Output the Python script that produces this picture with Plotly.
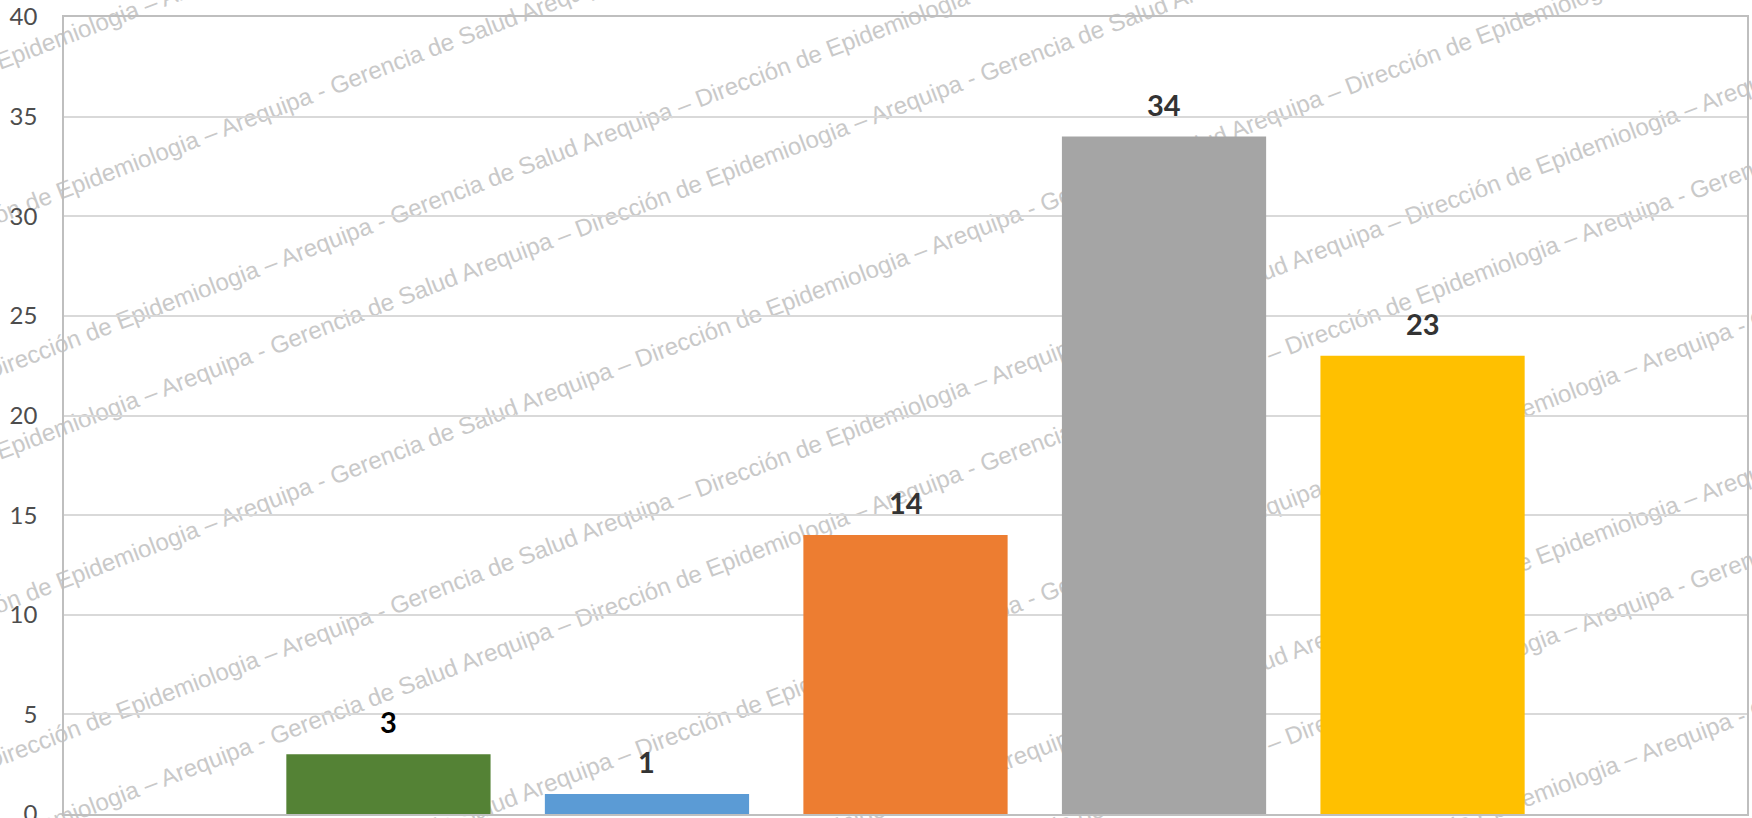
import plotly.graph_objects as go

# ---- data ----
categories = ["Cat 1", "Cat 2", "Cat 3", "Cat 4", "Cat 5"]
values = [3, 1, 14, 34, 23]
bar_colors = ["#548235", "#5B9BD5", "#ED7D31", "#A5A5A5", "#FFC000"]
label_colors = ["#000000", "#333333", "#333333", "#333333", "#333333"]
y_ticks = [0, 5, 10, 15, 20, 25, 30, 35, 40]
watermark_phrase = "Arequipa - Gerencia de Salud Arequipa \u2013 Direcci\u00f3n de Epidemiologia \u2013 "

W, H = 1752, 818
ML, MR, MT, MB = 64, 5, 17, 4
PW = W - ML - MR
PH = H - MT - MB

fig = go.Figure()
fig.add_trace(go.Bar(
    x=categories, y=values,
    marker=dict(color=bar_colors, line=dict(width=0)),
    width=0.79,
    hoverinfo="x+y",
    showlegend=False,
))

for c, v, lc in zip(categories, values, label_colors):
    fig.add_annotation(
        x=c, y=v, xref="x", yref="y",
        text=f"<b>{v}</b>", showarrow=False,
        yanchor="bottom", yshift=13,
        font=dict(family="Lato, Carlito, Calibri, sans-serif", size=29, color=lc),
    )

# ---- watermark (decorative, drawn beneath the bars) ----
shapes = []
wm_text = watermark_phrase * 4
for k in range(12):
    cy_px = -260 + 130 * k
    cx_px = 876 + (k % 3) * 60
    px0, py0 = cx_px - 5, cy_px + 1.9
    px1, py1 = cx_px + 5, cy_px - 1.9
    shapes.append(dict(
        type="line", xref="paper", yref="paper", layer="below",
        x0=(px0 - ML) / PW, y0=(H - MB - py0) / PH,
        x1=(px1 - ML) / PW, y1=(H - MB - py1) / PH,
        line=dict(width=0, color="rgba(0,0,0,0)"),
        label=dict(text=wm_text, textangle=-21, textposition="middle",
                   font=dict(family="Liberation Sans, Arial, sans-serif",
                             size=24, color="#c9c9c9")),
    ))

fig.update_layout(
    width=W, height=H,
    margin=dict(l=ML, r=MR, t=MT, b=MB, pad=0, autoexpand=False),
    paper_bgcolor="white",
    plot_bgcolor="rgba(0,0,0,0)",
    shapes=shapes,
    bargap=0.21,
    xaxis=dict(
        type="category",
        range=[-1.255, len(categories) - 1 + 1.255],
        showticklabels=False, ticks="", automargin=False,
        showgrid=False, zeroline=False,
        showline=True, mirror=True, linecolor="#BFBFBF", linewidth=1.5,
    ),
    yaxis=dict(
        range=[0, 40], tickvals=y_ticks, automargin=False,
        showgrid=True, gridcolor="#D9D9D9", gridwidth=1.5,
        zeroline=False,
        showline=True, mirror=True, linecolor="#BFBFBF", linewidth=1.5,
        ticks="", ticklabelstandoff=20, ticklabeloverflow="allow",
        tickfont=dict(family="Lato, Carlito, Calibri, sans-serif",
                      size=24, color="#4d4d4d"),
    ),
)

fig.write_html(
    "out.html",
    config={"displayModeBar": False},
    post_script="document.body.style.margin='0';document.body.style.overflow='hidden';",
)
